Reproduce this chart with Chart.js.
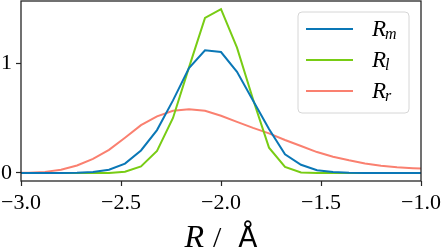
<!DOCTYPE html>
<html>
<head>
<meta charset="utf-8">
<script src="https://cdn.jsdelivr.net/npm/chart.js@4"></script>
<style>
  html, body { margin: 0; padding: 0; background: #fff; }
  #wrap { width: 443px; height: 252px; }
</style>
</head>
<body>
<div id="wrap"><canvas id="chart" width="443" height="252"></canvas></div>
<script>
// bond length grid (R / Å), step 0.08
const rValues = [-3.04, -2.96, -2.88, -2.80, -2.72, -2.64, -2.56, -2.48, -2.40, -2.32,
                 -2.24, -2.16, -2.08, -2.00, -1.92, -1.84, -1.76, -1.68, -1.60, -1.52,
                 -1.44, -1.36, -1.28, -1.20, -1.12, -1.04, -0.96];
const rmValues = [0, 0, 0, 0, 0.002, 0.008, 0.03, 0.085, 0.205, 0.39,
                  0.66, 0.955, 1.115, 1.10, 0.92, 0.66, 0.40, 0.17, 0.075, 0.025,
                  0.008, 0.002, 0, 0, 0, 0, 0];
const rlValues = [0, 0, 0, 0, 0, 0, 0, 0.012, 0.06, 0.20,
                  0.50, 0.96, 1.41, 1.49, 1.14, 0.67, 0.23, 0.055, 0.005, 0,
                  0, 0, 0, 0, 0, 0, 0];
const rrValues = [0, 0.002, 0.01, 0.03, 0.068, 0.128, 0.21, 0.32, 0.435, 0.515,
                  0.565, 0.58, 0.565, 0.52, 0.465, 0.41, 0.36, 0.30, 0.245, 0.19,
                  0.148, 0.115, 0.087, 0.066, 0.052, 0.043, 0.037];
const seriesNames = ["R_m", "R_l", "R_r"];
const seriesColors = ["#0a77b6", "#78cc14", "#fa8070"];

const serif = "'Liberation Serif', 'DejaVu Serif', serif";

function toPoints(xs, ys) {
    return ys.map((y, i) => ({ x: xs[i], y: y }));
}

// matplotlib-like frame around the axes
const framePlugin = {
    id: "frame",
    afterDraw(chart) {
        const a = chart.chartArea;
        const ctx = chart.ctx;
        ctx.save();
        ctx.strokeStyle = "#262626";
        ctx.lineWidth = 1.3;
        ctx.strokeRect(a.left, a.top, a.right - a.left, a.bottom - a.top);
        ctx.restore();
    }
};

// legend with subscripts, upper right inside axes
const legendPlugin = {
    id: "subLegend",
    afterDraw(chart) {
        const a = chart.chartArea;
        const ctx = chart.ctx;
        const boxX = a.right - 123, boxY = a.top + 11, boxW = 111, boxH = 101;
        ctx.save();
        ctx.beginPath();
        ctx.roundRect(boxX, boxY, boxW, boxH, 4);
        ctx.fillStyle = "rgba(255,255,255,0.8)";
        ctx.fill();
        ctx.strokeStyle = "#d6d6d6";
        ctx.lineWidth = 1;
        ctx.stroke();
        chart.data.datasets.forEach((ds, i) => {
            const y = boxY + 17 + i * 31;
            ctx.strokeStyle = ds.borderColor;
            ctx.lineWidth = 2;
            ctx.beginPath();
            ctx.moveTo(boxX + 8, y);
            ctx.lineTo(boxX + 55, y);
            ctx.stroke();
            const [main, sub] = ds.label.split("_");
            ctx.fillStyle = "#000";
            ctx.textBaseline = "alphabetic";
            ctx.font = "italic 23px " + serif;
            ctx.fillText(main, boxX + 74, y + 7);
            const w = ctx.measureText(main).width;
            ctx.font = "italic 16px " + serif;
            ctx.fillText(sub, boxX + 74 + w - 1, y + 10);
        });
        ctx.restore();
    }
};

// x axis title "R / Å" (R italic, Å upright)
const titlePlugin = {
    id: "xTitle",
    afterDraw(chart) {
        const a = chart.chartArea;
        const ctx = chart.ctx;
        const parts = [
            { t: "R", f: "italic 32px " + serif, gap: 9 },
            { t: "/", f: "30px " + serif, gap: 17 },
            { t: "Å", f: "28px 'DejaVu Sans', sans-serif", gap: 0 }
        ];
        ctx.save();
        ctx.fillStyle = "#000";
        ctx.textBaseline = "alphabetic";
        let total = 0;
        parts.forEach(p => { ctx.font = p.f; p.w = ctx.measureText(p.t).width; total += p.w + p.gap; });
        let x = (a.left + a.right) / 2 - total / 2;
        const y = a.bottom + 66;
        parts.forEach(p => { ctx.font = p.f; ctx.fillText(p.t, x, y); x += p.w + p.gap; });
        ctx.restore();
    }
};

const ctx = document.getElementById("chart").getContext("2d");
new Chart(ctx, {
    type: "line",
    data: {
        datasets: [
            { label: seriesNames[0], data: toPoints(rValues, rmValues), borderColor: seriesColors[0] },
            { label: seriesNames[1], data: toPoints(rValues, rlValues), borderColor: seriesColors[1] },
            { label: seriesNames[2], data: toPoints(rValues, rrValues), borderColor: seriesColors[2] }
        ]
    },
    options: {
        responsive: false,
        animation: false,
        devicePixelRatio: 1,
        layout: { padding: { top: 1, right: 22, left: 0, bottom: 0 } },
        elements: {
            line: { borderWidth: 2, tension: 0, fill: false },
            point: { radius: 0 }
        },
        datasets: { line: { clip: 0 } },
        plugins: {
            legend: { display: false },
            tooltip: { enabled: false }
        },
        scales: {
            x: {
                type: "linear",
                min: -3,
                max: -1,
                border: { display: false },
                grid: { drawOnChartArea: false, tickLength: 5, tickColor: "#262626", tickWidth: 1.2 },
                ticks: {
                    stepSize: 0.5,
                    padding: 4,
                    color: "#000",
                    maxRotation: 0,
                    font: { family: serif, size: 22 },
                    callback: v => (v < 0 ? "\u2212" : "") + Math.abs(v).toFixed(1)
                },
                afterFit: s => { s.height = 71; s.paddingLeft = 0; s.paddingRight = 0; }
            },
            y: {
                min: -0.073,
                max: 1.564,
                border: { display: false },
                grid: { drawOnChartArea: false, tickLength: 5, tickColor: "#262626", tickWidth: 1.2 },
                ticks: {
                    stepSize: 1,
                    includeBounds: false,
                    padding: 4,
                    color: "#000",
                    font: { family: serif, size: 22 },
                    callback: v => String(v)
                },
                afterFit: s => { s.width = 21; s.paddingTop = 0; s.paddingBottom = 0; }
            }
        }
    },
    plugins: [framePlugin, legendPlugin, titlePlugin]
});
</script>
</body>
</html>
